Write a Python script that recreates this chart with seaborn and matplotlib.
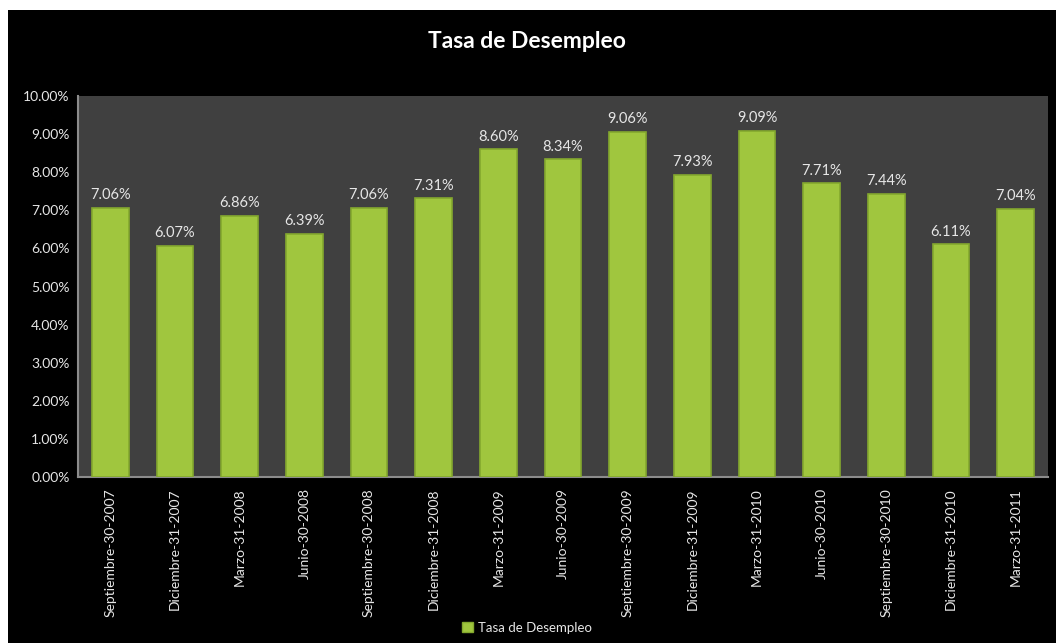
import matplotlib
matplotlib.use("Agg")
import matplotlib.pyplot as plt
from matplotlib.patches import Rectangle, Patch
from matplotlib.ticker import FuncFormatter
import seaborn as sns
import pandas as pd

categories = ["Septiembre-30-2007", "Diciembre-31-2007", "Marzo-31-2008", "Junio-30-2008",
              "Septiembre-30-2008", "Diciembre-31-2008", "Marzo-31-2009", "Junio-30-2009",
              "Septiembre-30-2009", "Diciembre-31-2009", "Marzo-31-2010", "Junio-30-2010",
              "Septiembre-30-2010", "Diciembre-31-2010", "Marzo-31-2011"]
values = [7.06, 6.07, 6.86, 6.39, 7.06, 7.31, 8.60, 8.34, 9.06, 7.93, 9.09, 7.71, 7.44, 6.11, 7.04]
series_name = "Tasa de Desempleo"
title = "Tasa de Desempleo"

sns.set_theme(style="dark")
plt.rcParams['font.family'] = ['Lato', 'DejaVu Sans']

df = pd.DataFrame({"cat": categories, "val": values})

fig = plt.figure(figsize=(10.56, 6.43), dpi=100, facecolor="white")
fig.patches.append(Rectangle((8/1056, 0), 1, (643-10)/643, transform=fig.transFigure,
                             facecolor="black", edgecolor="none", zorder=-10))
ax = fig.add_axes([78/1056, 1-477/643, (1048-78)/1056, (477-96)/643])
ax.set_facecolor("#404040")

sns.barplot(data=df, x="cat", y="val", color="#A0C63E", width=0.57, ax=ax,
            saturation=1, edgecolor="#84A82E", linewidth=1.2)
for p in ax.patches:
    p.set_zorder(3)

ax.bar_label(ax.containers[0], labels=[f"{v:.2f}%" for v in values], padding=4,
             color="#E6E6E6", fontsize=10.5)

ax.set_ylim(0, 10)
ax.set_yticks([i for i in range(0, 11)])
ax.yaxis.set_major_formatter(FuncFormatter(lambda v, p: f"{v:.2f}%"))
ax.set_xlim(-0.5, len(categories) - 0.5)
ax.set_xlabel("")
ax.set_ylabel("")
ax.tick_params(axis="x", rotation=90, colors="#E6E6E6", labelsize=10, length=0, pad=8)
ax.tick_params(axis="y", colors="#E6E6E6", labelsize=10, length=0, pad=6)
ax.grid(False)
for s in ["top", "right"]:
    ax.spines[s].set_visible(False)
for s in ["left", "bottom"]:
    ax.spines[s].set_visible(True)
    ax.spines[s].set_color("#8C8C8C")
    ax.spines[s].set_linewidth(1.5)

fig.text(527/1056, 1-42/643, title, ha="center", va="center", color="white",
         fontsize=16.5, fontweight="bold")

handle = Patch(facecolor="#A0C63E", edgecolor="#84A82E")
fig.legend([handle], [series_name], loc="center", bbox_to_anchor=(527/1056, 1-628/643),
           frameon=False, fontsize=9.5, labelcolor="#E6E6E6", handlelength=0.8,
           handleheight=0.8, handletextpad=0.4)

fig.savefig("out.png", dpi=100, facecolor=fig.get_facecolor())
